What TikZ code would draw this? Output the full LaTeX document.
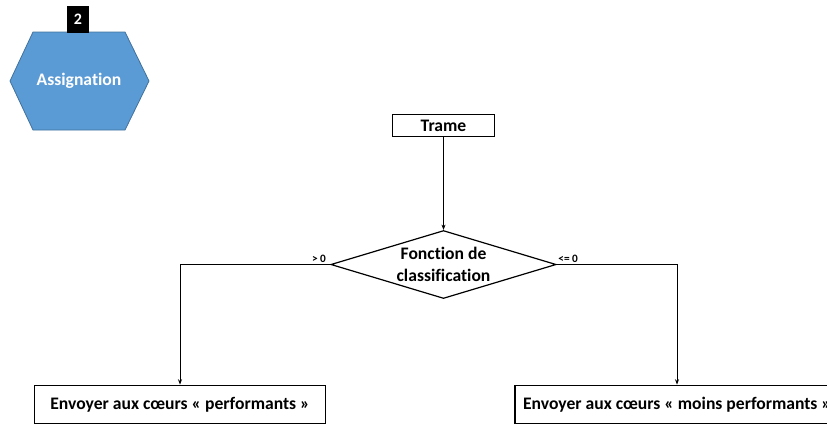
\documentclass[tikz,border=0pt]{standalone}
\usepackage{fontspec}
\setmainfont[RawFeature=-liga]{Carlito}
\usetikzlibrary{arrows.meta,positioning,shapes.geometric}
\definecolor{asgFill}{HTML}{5B9BD5}
\definecolor{asgLine}{HTML}{41719C}

\begin{document}
\begin{tikzpicture}[x=0.75pt,y=-0.75pt,font=\bfseries\fontsize{13.2}{15}\selectfont,
    box/.style={draw=black,line width=0.9pt,fill=white,inner sep=0pt,
                minimum height=29pt},
    test/.style={draw=black,line width=0.9pt,diamond,aspect=3.3,inner sep=0pt,
                 minimum width=169pt,minimum height=51pt,align=center},
    flow/.style={line width=0.55pt,-{Stealth[length=4pt,width=3pt]}},
    tag/.style={font=\bfseries\fontsize{8.5}{9}\selectfont,inner sep=1pt}]
  \useasboundingbox (0,0) rectangle (827,426);
  \clip (0,0) rectangle (827,426);
  % step badge
  \fill[asgFill,draw=asgLine,line width=0.6pt]
    (33,32) -- (125,32) -- (149,81) -- (125,130) -- (33,130) -- (10,81) -- cycle;
  \node[text=white] (asg) at (79,81) {Assignation};
  \node[fill=black,text=white,minimum width=16.5pt,minimum height=20pt,
        inner sep=0pt,font=\bfseries\fontsize{12}{13}\selectfont] (num) at (78,19.5) {2};
  % flow
  \node[box,minimum width=77pt,minimum height=17pt] (trame) at (443.5,125.5) {Trame};
  \node[test] (cls) at (443.5,264.5) {Fonction de\\[2pt]classification};
  \node[box,minimum width=218pt] (perf) at (180,404.5)
    {Envoyer aux cœurs « performants »};
  \node[box,minimum width=243pt] (moins) at (677,404.5)
    {Envoyer aux cœurs « moins performants »};
  \draw[flow] (trame) -- (cls);
  \draw[flow] (cls.west) -| (perf.north);
  \draw[flow] (cls.east) -| (moins.north);
  \node[tag,anchor=south east] (gt) at ([xshift=-2pt,yshift=0.5pt]cls.west) {> 0};
  \node[tag,anchor=south west] (le) at ([xshift=0pt,yshift=0.5pt]cls.east) {<= 0};
\end{tikzpicture}
\end{document}
